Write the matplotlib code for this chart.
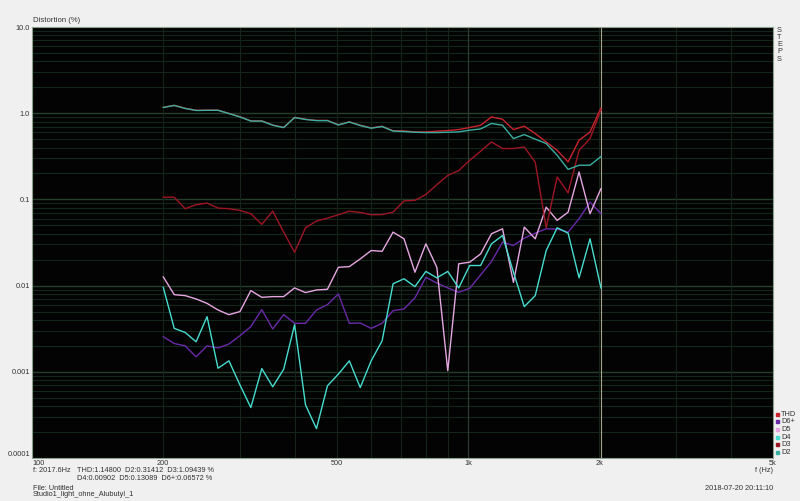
import numpy as np
import matplotlib.pyplot as plt
from matplotlib.patches import Rectangle

# frequencies (Hz), 1/12 octave steps from 200 Hz
freq = [200, 211.9, 224.5, 237.8, 252.0, 267.0, 282.8, 299.7, 317.5, 336.4,
        356.4, 377.6, 400.0, 423.8, 449.0, 475.7, 504.0, 534.0, 565.7, 599.3,
        635.0, 672.7, 712.7, 755.1, 800.0, 847.6, 898.0, 951.4, 1008, 1068,
        1131, 1199, 1270, 1345, 1425, 1510, 1600, 1695, 1796, 1903, 2016]

# distortion in %
thd = [1.17, 1.235, 1.14, 1.08, 1.085, 1.085, 0.995, 0.91, 0.815, 0.815,
       0.73, 0.685, 0.895, 0.85, 0.825, 0.825, 0.735, 0.795, 0.725, 0.675,
       0.705, 0.625, 0.623, 0.607, 0.607, 0.618, 0.629, 0.646, 0.682, 0.725,
       0.906, 0.85, 0.646, 0.706, 0.58, 0.464, 0.371, 0.272, 0.485, 0.606, 1.148]
d2 = [1.165, 1.23, 1.135, 1.075, 1.08, 1.08, 0.99, 0.905, 0.81, 0.81,
      0.725, 0.68, 0.89, 0.845, 0.82, 0.82, 0.73, 0.79, 0.72, 0.67,
      0.70, 0.62, 0.612, 0.601, 0.596, 0.596, 0.601, 0.607, 0.635, 0.657,
      0.76, 0.725, 0.508, 0.565, 0.50, 0.445, 0.325, 0.223, 0.249, 0.249, 0.314]
d3 = [0.106, 0.106, 0.078, 0.0868, 0.0906, 0.0793, 0.078, 0.0745, 0.0682, 0.0513,
      0.0731, 0.0417, 0.0244, 0.0469, 0.056, 0.0606, 0.0664, 0.073, 0.0706, 0.0664,
      0.0667, 0.0711, 0.096, 0.0975, 0.114, 0.148, 0.19, 0.216, 0.284, 0.362,
      0.464, 0.389, 0.389, 0.406, 0.27, 0.047, 0.182, 0.119, 0.371, 0.508, 1.094]
d4 = [0.00955, 0.00319, 0.00286, 0.00223, 0.00436, 0.0011, 0.00134, 0.000706, 0.000385, 0.00109,
      0.00067, 0.00107, 0.00352, 0.000413, 0.000219, 0.000687, 0.00094, 0.00134, 0.000657, 0.00134,
      0.00229, 0.0105, 0.012, 0.00973, 0.0146, 0.0123, 0.0146, 0.0094, 0.0171, 0.0171,
      0.0305, 0.0381, 0.0143, 0.0057, 0.00765, 0.0255, 0.0469, 0.0406, 0.0123, 0.0349, 0.0094]
d5 = [0.01262, 0.00785, 0.00765, 0.0070, 0.00622, 0.00521, 0.0046, 0.00499, 0.00875, 0.00731,
      0.00745, 0.00745, 0.0094, 0.0083, 0.0089, 0.00906, 0.0163, 0.0166, 0.0204, 0.0255,
      0.025, 0.0417, 0.0349, 0.0143, 0.0305, 0.0163, 0.00103, 0.0179, 0.0187, 0.0233,
      0.0399, 0.0456, 0.0109, 0.0477, 0.0349, 0.0813, 0.057, 0.0711, 0.208, 0.0682, 0.133]
d6 = [0.00255, 0.00213, 0.002, 0.00149, 0.002, 0.00189, 0.0021, 0.00262, 0.00334, 0.00526,
      0.00314, 0.0046, 0.00365, 0.00365, 0.00521, 0.00601, 0.008, 0.00365, 0.00368, 0.00319,
      0.00365, 0.00512, 0.00536, 0.0072, 0.0125, 0.0107, 0.0094, 0.00836, 0.0093, 0.0133,
      0.019, 0.0319, 0.0292, 0.0355, 0.0406, 0.0456, 0.0452, 0.0417, 0.0596, 0.093, 0.0682]

names = ['THD', 'D6+', 'D5', 'D4', 'D3', 'D2']
colors = {'THD': '#c8242e', 'D6+': '#6a2aa8', 'D5': '#e6a6e2',
          'D4': '#46dccf', 'D3': '#9e1624', 'D2': '#3aaea0'}
series = {'THD': thd, 'D6+': d6, 'D5': d5, 'D4': d4, 'D3': d3, 'D2': d2}

yticks = [0.0001, 0.001, 0.01, 0.1, 1.0, 10.0]
ylabels = ['0.0001', '0.001', '0.01', '0.1', '1.0', '10.0']
xticks = [100, 200, 500, 1000, 2000, 5000]
xlabels = ['100', '200', '500', '1k', '2k', '5k']
cursor_f = 2017.6

FS = 5.3
TXT = '#333333'

plt.rcParams['font.family'] = ['Liberation Sans', 'DejaVu Sans']
fig = plt.figure(figsize=(8, 5.01), dpi=100, facecolor='#f0f0f0')
ax = fig.add_axes([32 / 800, 43 / 501, 741 / 800, 431 / 501])
ax.set_facecolor('#030303')
ax.set_xscale('log')
ax.set_yscale('log')
ax.set_xlim(100, 5000)
ax.set_ylim(0.0001, 10)

# grid
for dec in [0.0001, 0.001, 0.01, 0.1, 1.0]:
    for m in range(2, 10):
        ax.axhline(dec * m, color='#13261a', lw=0.8, zorder=1)
for dec in [0.001, 0.01, 0.1, 1.0]:
    ax.axhline(dec, color='#24402c', lw=1.0, zorder=1)
for f in [100, 1000]:
    for m in range(2, 10):
        if f * m < 5000:
            ax.axvline(f * m, color='#152418', lw=0.8, zorder=1)
ax.axvline(1000, color='#2a3c30', lw=0.9, zorder=1)
ax.axvline(cursor_f, color='#a4a48c', lw=0.8, zorder=1)

for name in ['THD', 'D6+', 'D5', 'D4', 'D3', 'D2']:
    ax.plot(freq, series[name], color=colors[name], lw=1.0, zorder=3)

ax.set_xticks(xticks)
ax.set_xticklabels(xlabels)
ax.set_yticks(yticks)
ax.set_yticklabels(ylabels)
ax.minorticks_off()
ax.tick_params(axis='x', length=0, labelsize=FS, colors=TXT, pad=1.5)
ax.tick_params(axis='y', length=0, labelsize=FS, colors=TXT, pad=1.5)
ax.get_xticklabels()[0].set_ha('left')
ax.get_yticklabels()[0].set_va('bottom')
for s in ax.spines.values():
    s.set_color('#8aa08a')
    s.set_linewidth(0.8)

fig.text(33 / 800, 1 - 21 / 501, 'Distortion (%)', fontsize=FS + 0.3, color=TXT, va='center')
for i, ch in enumerate('STEPS'):
    fig.text(777 / 800, 1 - (30 + i * 7.3) / 501, ch, fontsize=FS, color=TXT, va='center')

# legend at right
for i, name in enumerate(names):
    y = 1 - (414 + i * 7.7) / 501
    fig.patches.append(Rectangle((776 / 800, y - 1.5 / 501), 3 / 800, 3 / 501,
                                 transform=fig.transFigure, color=colors[name]))
    fig.text(781 / 800, y, name, fontsize=FS, color=TXT, va='center')

fig.text(773 / 800, 1 - 471 / 501, 'f (Hz)', fontsize=FS, color=TXT, va='center', ha='right')
fig.text(33 / 800, 1 - 471 / 501, 'f: 2017.6Hz', fontsize=FS, color=TXT, va='center')
fig.text(77 / 800, 1 - 471 / 501, 'THD:1.14800  D2:0.31412  D3:1.09439 %', fontsize=FS,
         color=TXT, va='center')
fig.text(77 / 800, 1 - 479 / 501, 'D4:0.00902  D5:0.13089  D6+:0.06572 %', fontsize=FS,
         color=TXT, va='center')
fig.text(33 / 800, 1 - 488 / 501, 'File: Untitled', fontsize=FS, color=TXT, va='center')
fig.text(33 / 800, 1 - 495 / 501, 'Studio1_light_ohne_Alubutyl_1', fontsize=FS,
         color=TXT, va='center')
fig.text(773 / 800, 1 - 488 / 501, '2018-07-20 20:11:10', fontsize=FS, color=TXT,
         va='center', ha='right')

fig.savefig('out.png', dpi=100, facecolor=fig.get_facecolor())
